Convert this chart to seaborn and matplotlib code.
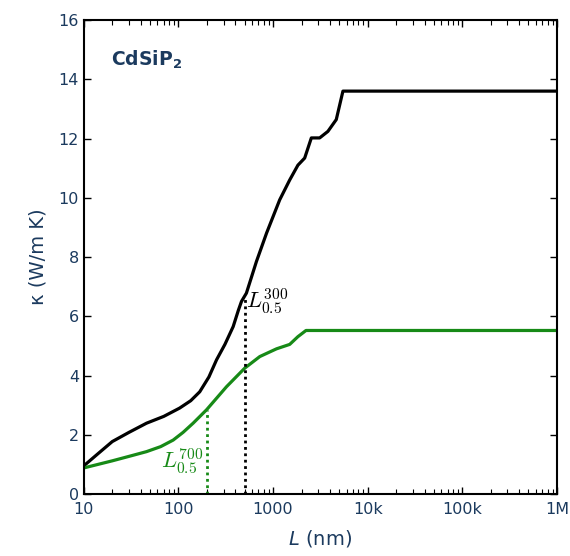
import numpy as np
import pandas as pd
import matplotlib
matplotlib.use("Agg")
import matplotlib.pyplot as plt
import seaborn as sns
from matplotlib.ticker import FixedLocator, NullFormatter

# phonon mean free path (nm) vs cumulative thermal conductivity
L_300 = [10, 14, 20, 30, 46, 70, 103, 135, 168, 210, 253, 310, 379, 430, 464, 523,
         668, 855, 1176, 1500, 1832, 2160, 2540, 3110, 3800, 4660, 5480, 1e6]
k_300 = [0.95, 1.35, 1.77, 2.08, 2.39, 2.62, 2.90, 3.15, 3.45, 3.95, 4.53, 5.05,
         5.65, 6.20, 6.50, 6.78, 7.85, 8.81, 9.93, 10.6, 11.1, 11.34, 12.02, 12.02,
         12.24, 12.64, 13.6, 13.6]

L_700 = [10, 20, 30, 46, 65, 88, 112, 143, 198, 322, 503, 725, 1087, 1500, 1830,
         2230, 1e6]
k_700 = [0.88, 1.12, 1.27, 1.43, 1.60, 1.82, 2.08, 2.39, 2.84, 3.62, 4.25, 4.64,
         4.90, 5.05, 5.31, 5.52, 5.52]

# half-accumulation lengths
half_L = [500, 200]
half_k = [6.6, 2.84]

xticks = [10, 100, 1000, 1e4, 1e5, 1e6]
xtick_labels = ["10", "100", "1000", "10k", "100k", "1M"]

navy = "#1b3a5e"
green = "#178a17"

df = pd.concat([
    pd.DataFrame({"L": L_300, "k": k_300, "T": "300"}),
    pd.DataFrame({"L": L_700, "k": k_700, "T": "700"}),
])

sns.set_style("white")
plt.rcParams["font.family"] = ["DejaVu Sans"]
plt.rcParams["mathtext.fontset"] = "dejavusans"

fig = plt.figure(figsize=(5.7, 5.56), dpi=100)
ax = fig.add_axes([0.147, 0.1115, 0.83, 0.8525])

sns.lineplot(data=df, x="L", y="k", hue="T", palette={"300": "black", "700": green},
             linewidth=2.3, legend=False, ax=ax, sort=False, estimator=None)

ax.vlines(half_L[0], 0, half_k[0], colors="black", linestyles=(0, (1, 1.3)), linewidth=2)
ax.vlines(half_L[1], 0, half_k[1], colors=green, linestyles=(0, (1, 1.3)), linewidth=2)

ax.set_xscale("log")
ax.set_xlim(10, 1e6)
ax.set_ylim(0, 16)
ax.xaxis.set_major_locator(FixedLocator(xticks))
ax.set_xticklabels(xtick_labels)
minor = [m * 10.0 ** d for d in range(1, 6) for m in range(2, 10)]
ax.xaxis.set_minor_locator(FixedLocator(minor))
ax.xaxis.set_minor_formatter(NullFormatter())
ax.set_yticks(range(0, 17, 2))

ax.tick_params(axis="both", which="major", direction="in", length=5, width=1,
               top=True, right=True, bottom=True, left=True,
               labelsize=11.5, labelcolor=navy, color="black")
ax.tick_params(axis="x", which="minor", direction="in", length=3.5, width=0.8,
               top=True, bottom=True, color="black")
ax.tick_params(axis="x", pad=6)
for s in ax.spines.values():
    s.set_color("black")
    s.set_linewidth(1.5)

ax.set_xlabel("$L$ (nm)", fontsize=14, color=navy, labelpad=8)
ax.set_ylabel("κ (W/m K)", fontsize=14, color=navy, labelpad=8)

ax.text(0.058, 0.915, "CdSiP$_\\mathbf{2}$", transform=ax.transAxes, fontsize=13.5,
        fontweight="bold", color=navy, va="center")
ax.text(520, 6.5, r"$L_{0.5}^{300}$", fontsize=16, color="black", ha="left",
        va="center", math_fontfamily="cm")
ax.text(185, 1.1, r"$L_{0.5}^{700}$", fontsize=16, color=green, ha="right",
        va="center", math_fontfamily="cm")

fig.savefig("out.png", dpi=100)
